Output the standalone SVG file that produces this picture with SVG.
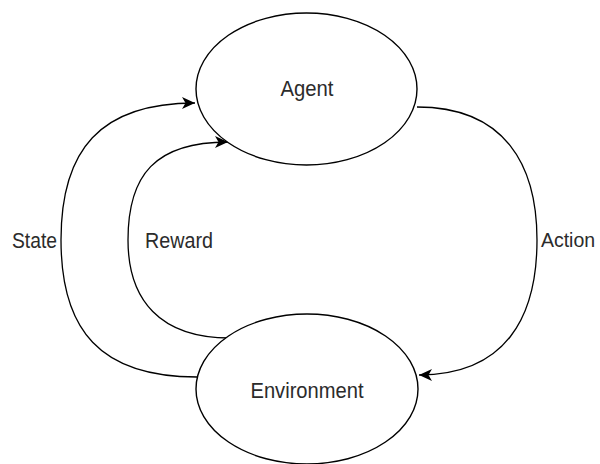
<svg xmlns="http://www.w3.org/2000/svg" width="600" height="464" viewBox="0 0 600 464">
<style>
.node ellipse{fill:#fff;stroke:#000;stroke-width:1.4}
.lbl{font-family:"Liberation Sans",Arial,sans-serif;font-size:22px;fill:#2b2b2b;text-anchor:middle;dominant-baseline:central}
.edge{fill:none;stroke:#000;stroke-width:1.3}
</style>
<defs>
<marker id="arr" markerUnits="userSpaceOnUse" markerWidth="16" markerHeight="14" refX="13" refY="6" orient="auto">
<path d="M0,0 L13,6 L0,12 L3.5,6 Z" fill="#000"/>
</marker>
</defs>
<rect width="600" height="464" fill="#fff"/>
<g id="connectors">
<path id="state" class="edge" d="M197,377 C100,377 61,330 61,240 C61,150 100,103 195,103" marker-end="url(#arr)"/>
<path id="reward" class="edge" d="M230,338 C160,338 128,300 128,240 C128,175 155,142 228,142" marker-end="url(#arr)"/>
<path id="action" class="edge" d="M417,107 C505,107 537,165 537,240 C537,318 505,375 419,375" marker-end="url(#arr)"/>
<text class="lbl" x="34.5" y="240" textLength="45" lengthAdjust="spacingAndGlyphs">State</text>
<text class="lbl" x="179" y="240" textLength="68" lengthAdjust="spacingAndGlyphs">Reward</text>
<text class="lbl" x="568" y="240" style="font-size:19.5px">Action</text>
</g>
<g id="agent" class="node">
<ellipse cx="306.5" cy="89" rx="110.5" ry="76"/>
<text class="lbl" x="307" y="88" textLength="53" lengthAdjust="spacingAndGlyphs">Agent</text>
</g>
<g id="environment" class="node">
<ellipse cx="307" cy="389" rx="111" ry="75"/>
<text class="lbl" x="307" y="390" textLength="113" lengthAdjust="spacingAndGlyphs">Environment</text>
</g>
</svg>
